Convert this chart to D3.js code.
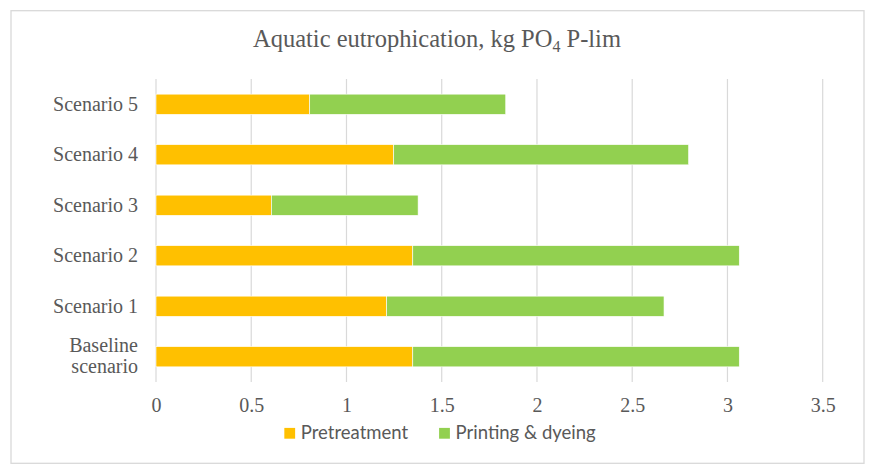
<!DOCTYPE html>
<html>
<head>
<meta charset="utf-8">
<script src="https://cdn.jsdelivr.net/npm/d3@7"></script>
<style>
  body { margin: 0; background: #fff; }
  .tick text { fill: #595959; font-family: "Liberation Serif", "Times New Roman", serif; font-size: 20px; }
</style>
</head>
<body>
<div id="chart"></div>
<script>
// data
var categories = ["Baseline\nscenario", "Scenario 1", "Scenario 2", "Scenario 3", "Scenario 4", "Scenario 5"];
var pretreatment = [1.348, 1.211, 1.348, 0.606, 1.248, 0.807];
var printingDyeing = [1.714, 1.456, 1.714, 0.770, 1.548, 1.029];
var seriesNames = ["Pretreatment", "Printing & dyeing"];
var seriesColors = ["#FFC000", "#92D050"];
var xTicks = [0, 0.5, 1, 1.5, 2, 2.5, 3, 3.5];

//svg size
var svgWidth = 874;
var svgHeight = 473;
var plot = { left: 156, right: 822.7, top: 79, bottom: 382 };

var svg = d3.select("#chart")
    .append("svg")
    .attr("width", svgWidth)
    .attr("height", svgHeight);

//outer frame
svg.append("rect")
    .attr("x", 11)
    .attr("y", 10.7)
    .attr("width", 853)
    .attr("height", 452.6)
    .attr("fill", "#fff")
    .attr("stroke", "#d9d9d9")
    .attr("stroke-width", 1.3);

//title
var title = svg.append("text")
    .attr("x", 437)
    .attr("y", 46.7)
    .attr("text-anchor", "middle")
    .attr("fill", "#595959")
    .style("font-family", "'Liberation Serif', 'Times New Roman', serif")
    .style("font-size", "24.5px");
title.append("tspan").text("Aquatic eutrophication, kg PO");
title.append("tspan").attr("dy", 5).style("font-size", "16px").text("4");
title.append("tspan").attr("dy", -5).text(" P-lim");

//scales
var xScale = d3.scaleLinear()
    .domain([0, 3.5])
    .range([plot.left, plot.right]);
var yScale = d3.scaleBand()
    .domain(categories)
    .range([plot.bottom, plot.top])
    .paddingInner(0.6)
    .paddingOuter(0.3);

//gridlines
svg.append("g")
    .selectAll("line")
    .data(xTicks)
    .enter()
    .append("line")
    .attr("x1", d => xScale(d))
    .attr("x2", d => xScale(d))
    .attr("y1", plot.top)
    .attr("y2", plot.bottom)
    .attr("stroke", "#d9d9d9")
    .attr("stroke-width", 1.2);

//stacked bars
var rows = categories.map(function(c, i) {
    return { cat: c, "Pretreatment": pretreatment[i], "Printing & dyeing": printingDyeing[i] };
});
var stacked = d3.stack().keys(seriesNames)(rows);

svg.append("g")
    .selectAll("g")
    .data(stacked)
    .enter()
    .append("g")
    .attr("fill", (d, i) => seriesColors[i])
    .selectAll("rect")
    .data(d => d)
    .enter()
    .append("rect")
    .attr("x", d => xScale(d[0]))
    .attr("y", d => yScale(d.data.cat))
    .attr("width", d => xScale(d[1]) - xScale(d[0]))
    .attr("height", yScale.bandwidth())
    .attr("stroke", "#fff")
    .attr("stroke-width", 0.6);

//x axis
var xAxis = d3.axisBottom(xScale)
    .tickValues(xTicks)
    .tickSize(0)
    .tickPadding(15.3)
    .tickFormat(d => String(d));
var xg = svg.append("g")
    .attr("transform", `translate(0, ${plot.bottom})`)
    .call(xAxis);
xg.select(".domain").remove();

//y axis
var yAxis = d3.axisLeft(yScale)
    .tickSize(0)
    .tickPadding(18);
var yg = svg.append("g")
    .attr("transform", `translate(${plot.left}, 0)`)
    .call(yAxis);
yg.select(".domain").remove();
yg.selectAll(".tick text").each(function(d) {
    var lines = d.split("\n");
    if (lines.length < 2) return;
    var t = d3.select(this).text(null).attr("dy", null);
    t.append("tspan").attr("x", -18).attr("y", -5).text(lines[0]);
    t.append("tspan").attr("x", -18).attr("y", 16.6).text(lines[1]);
});

//legend
var legend = svg.append("g");
var items = legend.selectAll("g")
    .data(seriesNames)
    .enter()
    .append("g");
items.append("rect")
    .attr("width", 10.8)
    .attr("height", 10.8)
    .attr("y", -11.4)
    .attr("fill", (d, i) => seriesColors[i]);
items.append("text")
    .attr("x", 16.5)
    .attr("fill", "#595959")
    .style("font-family", "Lato, 'Open Sans', sans-serif")
    .style("font-size", "18.5px")
    .text(d => d);
var offset = 0;
items.each(function() {
    var g = d3.select(this);
    g.attr("transform", `translate(${offset}, 0)`);
    offset += 16.5 + g.select("text").node().getComputedTextLength() + 31;
});
var legendWidth = offset - 31;
legend.attr("transform", `translate(${440 - legendWidth / 2}, 439.3)`);
</script>
</body>
</html>
